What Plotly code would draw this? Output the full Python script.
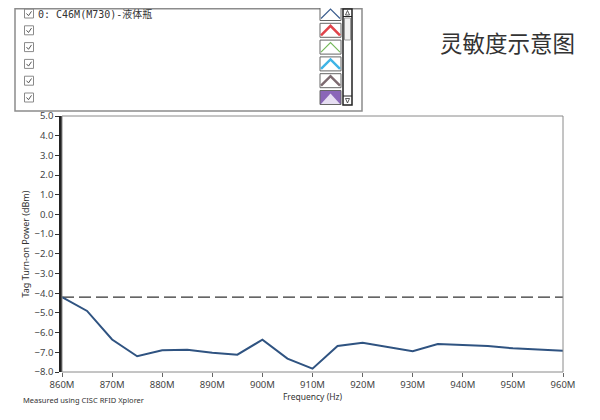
import plotly.graph_objects as go

# data
freq_mhz = [860, 865, 870, 875, 880, 885, 890, 895, 900, 905, 910,
            915, 920, 925, 930, 935, 940, 945, 950, 955, 960]
turn_on_dbm = [-4.2, -4.9, -6.35, -7.2, -6.9, -6.87, -7.02, -7.12, -6.36, -7.32, -7.83,
               -6.68, -6.52, -6.73, -6.95, -6.58, -6.64, -6.68, -6.8, -6.87, -6.92]
ref_level = -4.2
x_ticks = list(range(860, 961, 10))
x_labels = [f'{v}M' for v in x_ticks]
y_ticks = [v for v in range(-8, 6)]
series_names = ['0: C46M(M730)-液体瓶', '', '', '', '', '']
icon_colors = ['#3d5f8f', '#e0434a', '#74b85a', '#3fb4e6', '#7d6a70', '#8a66b8']

# page body has an 8px margin, so the figure is drawn 8px smaller and
# positions below are given in window pixels
OFF = 8
W, H = 600 - OFF, 420 - OFF
PL, PR, PT, PB = 62, 563, 116, 372  # plot area in window pixels


def px(x):
    return (x - PL) / (PR - PL)


def py(y):
    return (PB - y) / (PB - PT)


fig = go.Figure()
fig.add_trace(go.Scatter(x=[freq_mhz[0], freq_mhz[-1]], y=[ref_level, ref_level],
                         mode='lines', line=dict(color='#333333', width=1.2, dash='12px,5px'),
                         hoverinfo='skip', showlegend=False))
fig.add_trace(go.Scatter(x=freq_mhz, y=turn_on_dbm, mode='lines',
                         line=dict(color='#2f5381', width=2), showlegend=False))

shapes = []
# legend widget frame
shapes.append(dict(type='rect', xref='paper', yref='paper',
                   x0=px(15), x1=px(362), y0=py(111), y1=py(8.7),
                   line=dict(color='#8c8c8c', width=1.5), fillcolor='white', layer='below'))
row_y = [13.5 + 16.8 * i for i in range(6)]
for i, yc in enumerate(row_y):
    # checkbox
    shapes.append(dict(type='rect', xref='paper', yref='paper',
                       x0=px(24.5), x1=px(33.5), y0=py(yc + 4.5), y1=py(yc - 4.5),
                       line=dict(color='#8a8a8a', width=1)))
    shapes.append(dict(type='path', xref='paper', yref='paper',
                       path=f'M {px(26.5)} {py(yc)} L {px(28.5)} {py(yc + 2.2)} L {px(31.5)} {py(yc - 2.2)}',
                       line=dict(color='#555555', width=1)))
    # icon box
    x0, x1, y0, y1 = 320, 341, yc - 7, yc + 7
    c = icon_colors[i]
    if i == 5:
        shapes.append(dict(type='rect', xref='paper', yref='paper',
                           x0=px(x0), x1=px(x1), y0=py(y1), y1=py(y0),
                           line=dict(color='#666666', width=1), fillcolor=c))
        shapes.append(dict(type='path', xref='paper', yref='paper',
                           path=f'M {px(x0 + 1)} {py(y1 - 0.5)} L {px(330.5)} {py(y0 + 3)} L {px(x1 - 1)} {py(y1 - 0.5)} Z',
                           line=dict(width=0), fillcolor='#e6def2'))
    else:
        shapes.append(dict(type='rect', xref='paper', yref='paper',
                           x0=px(x0), x1=px(x1), y0=py(y1), y1=py(y0),
                           line=dict(color='#666666', width=1), fillcolor='white'))
        lw = 2.5 if i in (1, 3, 4) else 1.2
        shapes.append(dict(type='path', xref='paper', yref='paper',
                           path=f'M {px(x0 + 1)} {py(y1 - 2)} L {px(330.5)} {py(y0 + 2.5)} L {px(x1 - 1)} {py(y1 - 2)}',
                           line=dict(color=c, width=lw)))
# scrollbar
shapes.append(dict(type='rect', xref='paper', yref='paper',
                   x0=px(343), x1=px(352), y0=py(105), y1=py(9),
                   line=dict(color='#222222', width=1.5), fillcolor='white'))
shapes.append(dict(type='rect', xref='paper', yref='paper',
                   x0=px(344.5), x1=px(350.5), y0=py(40), y1=py(18),
                   line=dict(color='#9a9a9a', width=1), fillcolor='#f2f2f2'))
shapes.append(dict(type='line', xref='paper', yref='paper',
                   x0=px(343), x1=px(352), y0=py(16.5), y1=py(16.5),
                   line=dict(color='#222222', width=1)))
shapes.append(dict(type='line', xref='paper', yref='paper',
                   x0=px(343), x1=px(352), y0=py(96), y1=py(96),
                   line=dict(color='#222222', width=1)))
shapes.append(dict(type='path', xref='paper', yref='paper',
                   path=f'M {px(345.5)} {py(15)} L {px(347.5)} {py(10.5)} L {px(349.5)} {py(15)} Z',
                   line=dict(color='#333333', width=0.8)))
shapes.append(dict(type='path', xref='paper', yref='paper',
                   path=f'M {px(345.5)} {py(98.5)} L {px(347.5)} {py(103)} L {px(349.5)} {py(98.5)} Z',
                   line=dict(color='#333333', width=0.8)))
# plot frame (top/right/bottom thin gray)
shapes.append(dict(type='rect', xref='paper', yref='paper', x0=0, x1=1, y0=0, y1=1,
                   line=dict(color='#8a8a8a', width=1)))

annotations = []
for i, name in enumerate(series_names):
    if name:
        annotations.append(dict(xref='paper', yref='paper', x=px(36), y=py(row_y[i]),
                                text=name, showarrow=False, xanchor='left', yanchor='middle',
                                font=dict(family='DejaVu Sans Mono, Noto Sans CJK SC', size=10, color='#333333')))
annotations.append(dict(xref='paper', yref='paper', x=px(507), y=py(42),
                        text='灵敏度示意图', showarrow=False, xanchor='center', yanchor='middle',
                        font=dict(family='Noto Sans CJK SC', size=22.5, color='#333333')))
annotations.append(dict(xref='paper', yref='paper', x=px(21), y=py(400),
                        text='Measured using CISC RFID Xplorer', showarrow=False,
                        xanchor='left', yanchor='middle',
                        font=dict(family='Noto Sans', size=7.5, color='#333333')))

fig.update_layout(
    width=W, height=H,
    margin=dict(l=PL - OFF, r=600 - PR, t=PT - OFF, b=420 - PB),
    paper_bgcolor='white', plot_bgcolor='white',
    shapes=shapes, annotations=annotations,
    font=dict(family='Noto Sans', size=9.5, color='#444444'),
    xaxis=dict(range=[860, 960], tickvals=x_ticks, ticktext=x_labels,
               showgrid=False, zeroline=False, ticks='outside', ticklen=4,
               tickcolor='#666666', showline=False,
               title=dict(text='Frequency (Hz)', font=dict(size=8.5, color='#333333'), standoff=2)),
    yaxis=dict(range=[-8, 5], tickvals=y_ticks, tickformat='.1f',
               showgrid=False, zeroline=False, ticks='outside', ticklen=4,
               tickcolor='#333333', showline=True, linecolor='#222222', linewidth=2.5,
               title=dict(text='Tag Turn-on Power (dBm)', font=dict(size=9, color='#333333'), standoff=4)),
)

fig.write_html('out.html')
